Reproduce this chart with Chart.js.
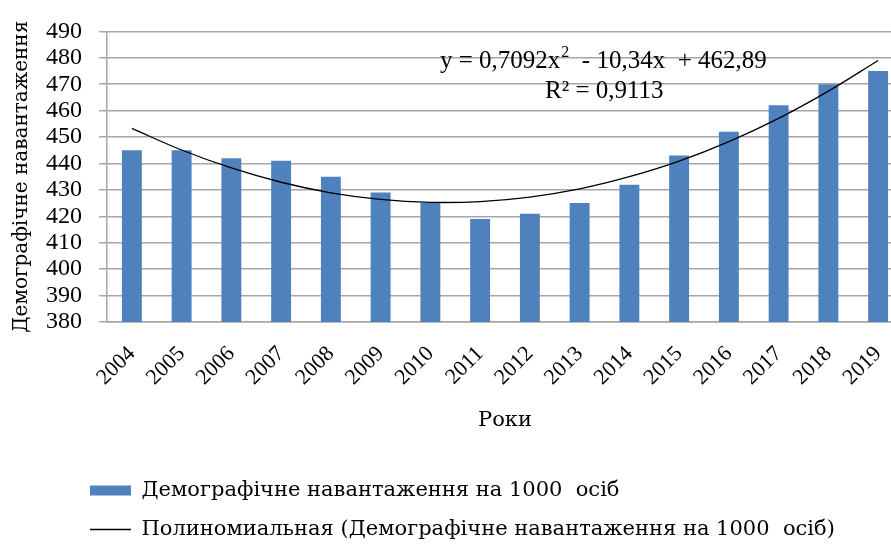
<!DOCTYPE html>
<html>
<head>
<meta charset="utf-8">
<script src="https://cdn.jsdelivr.net/npm/chart.js@4/dist/chart.umd.min.js"></script>
<style>
  html, body { margin: 0; padding: 0; background: #fff; overflow: hidden; }
  #wrap { position: absolute; left: 0; top: 0; width: 909px; height: 550px; }
</style>
</head>
<body>
<div id="wrap"><canvas id="demoChart"></canvas></div>
<script>
// Роки спостереження
const years = ['2004', '2005', '2006', '2007', '2008', '2009', '2010', '2011',
  '2012', '2013', '2014', '2015', '2016', '2017', '2018', '2019'];

// Демографічне навантаження на 1000 осіб
const loadValues = [445, 445, 442, 441, 435, 429, 425, 419,
  421, 425, 432, 443, 452, 462, 470, 475];

// Поліноміальний тренд 2-го ступеня по роках
const trendValues = [453.3, 445.1, 438.3, 432.9, 428.9, 426.4, 425.3, 425.6,
  427.3, 430.4, 435.0, 440.9, 448.3, 457.1, 467.4, 479.0];

const equationText = ['y = 0,7092x', '2', '  - 10,34x  + 462,89'];
const rSquaredText = 'R² = 0,9113';

const yMin = 380;
const yMax = 490;
const yStep = 10;

const SERIF = '"Liberation Serif", "Times New Roman", serif';
const WIDE_SERIF = '"DejaVu Serif", serif';
const GRID = '#a6a6a6';
const BAR_BLUE = '#4f81bd';

// Підпис рівняння тренду над графіком
const equationLabel = {
  id: 'equationLabel',
  afterDatasetsDraw(chart) {
    const ctx = chart.ctx;
    ctx.save();
    ctx.fillStyle = '#000';
    ctx.textBaseline = 'alphabetic';
    ctx.textAlign = 'left';
    ctx.font = '25px ' + SERIF;
    let x = 440;
    ctx.fillText(equationText[0], x, 68);
    x += ctx.measureText(equationText[0]).width + 1;
    ctx.font = '16px ' + SERIF;
    ctx.fillText(equationText[1], x, 57);
    x += ctx.measureText(equationText[1]).width;
    ctx.font = '25px ' + SERIF;
    ctx.fillText(equationText[2], x, 68);
    ctx.fillText(rSquaredText, 545, 98);
    ctx.restore();
  }
};

// Легенда з відступом, щоб стояла під віссю, а не від краю
const legendIndent = {
  id: 'legendIndent',
  afterLayout(chart) {
    if (chart.legend) chart.legend.left += 72;
  }
};

new Chart(document.getElementById('demoChart'), {
  data: {
    labels: years,
    datasets: [
      {
        type: 'bar',
        label: 'Демографічне навантаження на 1000  осіб',
        data: loadValues,
        backgroundColor: BAR_BLUE,
        borderWidth: 0,
        barPercentage: 0.4,
        categoryPercentage: 1,
        pointStyle: 'rect',
        order: 2
      },
      {
        type: 'line',
        label: 'Полиномиальная (Демографічне навантаження на 1000  осіб)',
        data: trendValues,
        borderColor: '#000',
        backgroundColor: '#000',
        borderWidth: 1.3,
        pointRadius: 0,
        pointStyle: 'line',
        tension: 0.4,
        fill: false,
        order: 1
      }
    ]
  },
  options: {
    responsive: true,
    maintainAspectRatio: false,
    animation: false,
    layout: {
      padding: { top: 23, right: 6, left: 0, bottom: 0 }
    },
    plugins: {
      legend: {
        position: 'bottom',
        align: 'start',
        labels: {
          color: '#000',
          usePointStyle: true,
          pointStyleWidth: 41,
          boxHeight: 10,
          padding: 18,
          font: { family: WIDE_SERIF, size: 21 },
          sort: (a, b) => a.datasetIndex - b.datasetIndex
        }
      },
      tooltip: { enabled: false }
    },
    scales: {
      x: {
        grid: { display: false },
        border: { display: true, color: GRID, width: 1.5 },
        ticks: {
          color: '#000',
          minRotation: 45,
          maxRotation: 45,
          padding: 11,
          font: { family: SERIF, size: 22 }
        },
        title: {
          display: true,
          text: 'Роки',
          color: '#000',
          padding: { top: 0, bottom: 29 },
          font: { family: WIDE_SERIF, size: 21 }
        },
        afterFit(scale) { scale.height = 140; }
      },
      y: {
        min: yMin,
        max: yMax,
        grid: { color: GRID, lineWidth: 1.5, tickLength: 8, drawTicks: true },
        border: { display: true, color: GRID, width: 1.5 },
        ticks: {
          stepSize: yStep,
          autoSkip: false,
          color: '#000',
          padding: 17,
          font: { family: SERIF, size: 24 }
        },
        title: {
          display: true,
          text: 'Демографічне навантаження',
          color: '#000',
          padding: { top: 10, bottom: 0 },
          font: { family: WIDE_SERIF, size: 20 }
        },
        afterFit(scale) { scale.width = 107; }
      }
    }
  },
  plugins: [equationLabel, legendIndent]
});
</script>
</body>
</html>
